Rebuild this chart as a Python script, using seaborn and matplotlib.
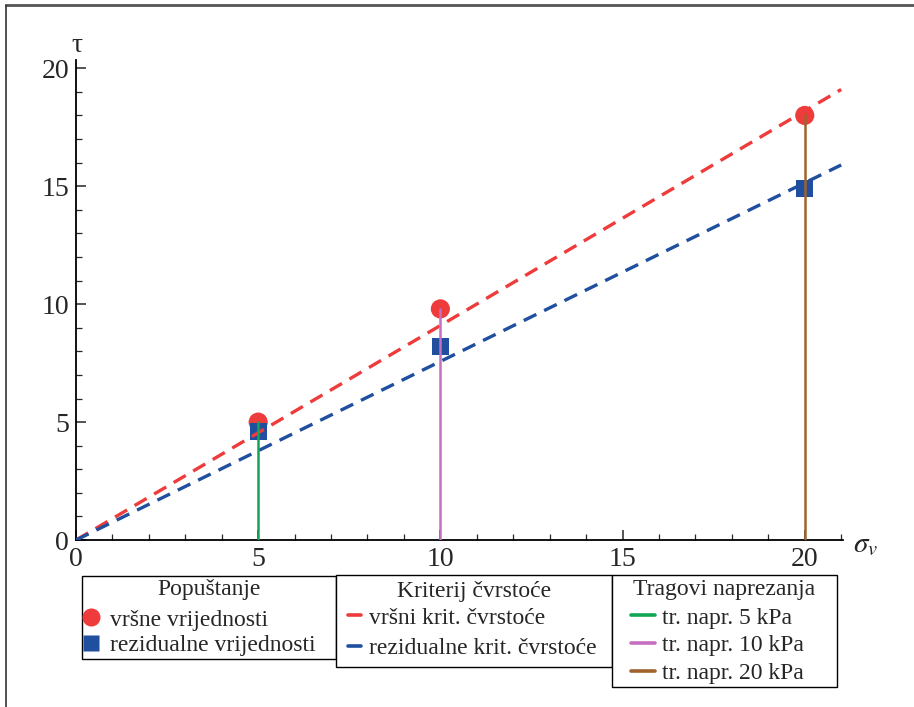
import numpy as np
import pandas as pd
import matplotlib
matplotlib.use("Agg")
import matplotlib.pyplot as plt
from matplotlib.lines import Line2D
from matplotlib.patches import Rectangle
from matplotlib.ticker import MultipleLocator
import seaborn as sns

# measured points
sigma = [5, 10, 20]
tau_peak = [5.0, 9.8, 18.0]
tau_res = [4.6, 8.2, 14.9]

# strength criteria (straight lines through origin)
crit_x = [0, 21]
crit_peak = [0, 19.1]
crit_res = [0, 15.9]

# stress traces
trace_labels = ["tr. napr. 5 kPa", "tr. napr. 10 kPa", "tr. napr. 20 kPa"]
trace_colors = ["#12A554", "#C66FC0", "#A0632E"]

RED = "#EE3B3B"
BLUE = "#1F4F9E"

W, H = 914, 707

sns.set_style("white")
plt.rcParams["font.family"] = ["Liberation Serif", "DejaVu Serif"]
plt.rcParams["mathtext.fontset"] = "stix"

fig = plt.figure(figsize=(9.14, 7.07), dpi=100)
ax = fig.add_axes([76/W, 1-60/H-0.679, 767/W, 0.679])

pts = pd.DataFrame({"sigma": sigma * 2,
                    "tau": tau_peak + tau_res,
                    "kind": ["peak"] * 3 + ["res"] * 3})
sns.scatterplot(data=pts[pts.kind == "peak"], x="sigma", y="tau", ax=ax,
                color=RED, marker="o", s=190, edgecolor="none", zorder=3,
                legend=False)
sns.scatterplot(data=pts[pts.kind == "res"], x="sigma", y="tau", ax=ax,
                color=BLUE, marker="s", s=150, edgecolor="none", zorder=4,
                legend=False)

sns.lineplot(x=crit_x, y=crit_peak, ax=ax, color=RED, lw=2.4,
             estimator=None, zorder=5)
sns.lineplot(x=crit_x, y=crit_res, ax=ax, color=BLUE, lw=2.4,
             estimator=None, zorder=5)
for ln in ax.lines[-2:]:
    ln.set_dashes((4.2, 2.6))

for s, t, c in zip(sigma, tau_peak, trace_colors):
    sns.lineplot(x=[s, s], y=[0, t], ax=ax, color=c, lw=1.8,
                 estimator=None, sort=False, zorder=6)

ax.set_xlim(0, 21.05)
ax.set_ylim(0, 20.35)
ax.set_xlabel("")
ax.set_ylabel("")
for side in ["top", "right"]:
    ax.spines[side].set_visible(False)
for side in ["left", "bottom"]:
    ax.spines[side].set_color("black")
    ax.spines[side].set_linewidth(1.3)
ax.xaxis.set_major_locator(MultipleLocator(5))
ax.xaxis.set_minor_locator(MultipleLocator(1))
ax.yaxis.set_major_locator(MultipleLocator(5))
ax.yaxis.set_minor_locator(MultipleLocator(1))
ax.tick_params(which="major", direction="in", length=7, width=1.1,
               labelsize=20, pad=5, bottom=True, left=True)
ax.tick_params(which="minor", direction="in", length=4, width=0.9,
               bottom=True, left=True)
ax.patch.set_alpha(0)

fig.text(77/W, 1-45/H, "τ", fontsize=20, ha="center", va="center")
fig.text(866/W, 1-545/H, r"$\sigma_v$", fontsize=21, ha="center", va="center")

# legend boxes (drawn separately, Mathematica-style wide frames)
boxes = [(82, 576, 336, 659), (336, 575, 612, 667), (612, 575, 837, 687)]
titles = ["Popuštanje", "Kriterij čvrstoće", "Tragovi naprezanja"]
title_pos = [(209, 589), (474, 592), (724, 590)]
for (x0, y0, x1, y1), t, (tx, ty) in zip(boxes, titles, title_pos):
    fig.add_artist(Rectangle((x0/W, 1-y1/H), (x1-x0)/W, (y1-y0)/H,
                             transform=fig.transFigure, facecolor="white",
                             edgecolor="black", lw=1.0, zorder=10))
    fig.text(tx/W, 1-ty/H, t, fontsize=17, ha="center", va="center",
             zorder=11)

leg_kw = dict(loc="upper left", frameon=False, fontsize=17,
              borderpad=0, borderaxespad=0)

h1 = [Line2D([], [], ls="", marker="o", ms=13, color=RED, mec="none"),
      Line2D([], [], ls="", marker="s", ms=12, color=BLUE, mec="none")]
l1 = fig.legend(h1, ["vršne vrijednosti", "rezidualne vrijednosti"],
                bbox_to_anchor=(82/W, 1-609/H),
                handlelength=0.8, handletextpad=0.4, labelspacing=0.16,
                **leg_kw)

h2 = [Line2D([], [], color=RED, lw=2.6),
      Line2D([], [], color=BLUE, lw=2.6)]
l2 = fig.legend(h2, ["vršni krit. čvrstoće", "rezidualne krit. čvrstoće"],
                bbox_to_anchor=(348/W, 1-607/H),
                handlelength=0.55, handletextpad=0.35, labelspacing=0.4,
                **leg_kw)

h3 = [Line2D([], [], color=c, lw=2.6) for c in trace_colors]
l3 = fig.legend(h3, trace_labels, bbox_to_anchor=(631/W, 1-607/H),
                handlelength=1.0, handletextpad=0.3, labelspacing=0.27,
                **leg_kw)
for lg in (l1, l2, l3):
    lg.set_zorder(11)

# outer frame (top and left edges visible)
fig.add_artist(Line2D([6/W, 1], [1-5/H, 1-5/H], color="#555555", lw=2,
                      transform=fig.transFigure))
fig.add_artist(Line2D([6/W, 6/W], [0, 1-5/H], color="#333333", lw=1.2,
                      transform=fig.transFigure))

fig.savefig("out.png", dpi=100)
